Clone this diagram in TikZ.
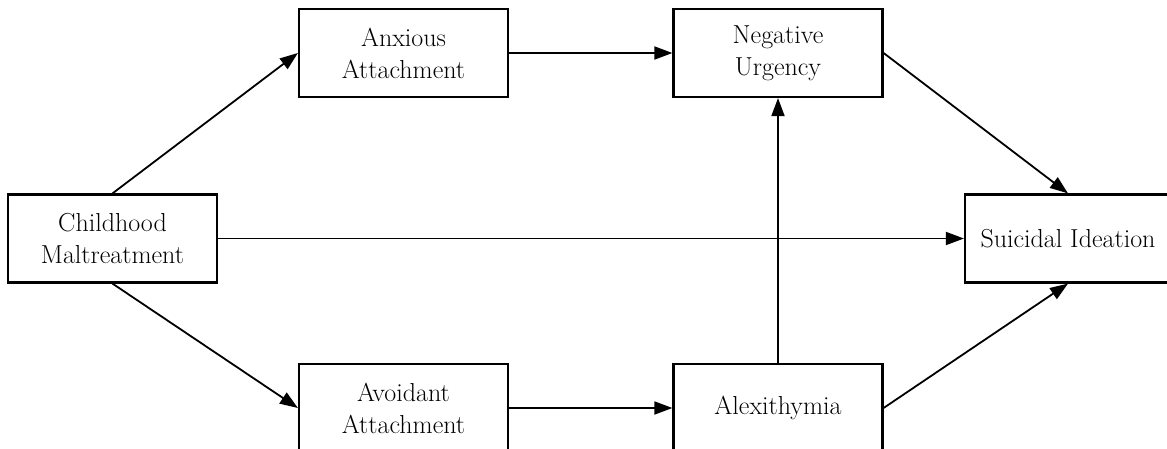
\documentclass[tikz,border=0pt]{standalone}
\usetikzlibrary{arrows.meta}

\tikzset{
	varbox/.style={draw, line width=2.2pt, minimum width=209pt, minimum height=88pt, inner sep=0pt, align=center, font=\fontsize{26}{32}\selectfont},
	path/.style={line width=1.8pt, -{Triangle[length=18pt,width=13pt]}}
}

\begin{document}
\begin{tikzpicture}[x=1pt, y=1pt]
		%%%%% START %%%%%
		
		\useasboundingbox (0, 0) rectangle (1167, 448);
		\clip (0, 0) rectangle (1167, 448);
		
		\node[varbox] (child) at (112.5, 209.5) {Childhood\\Maltreatment};
		\node[varbox] (anx) at (403.5, 395) {Anxious\\Attachment};
		\node[varbox] (neg) at (778, 395) {Negative\\Urgency};
		\node[varbox, minimum width=206pt] (sui) at (1068, 209.5) {Suicidal Ideation};
		\node[varbox] (avo) at (403.5, 40) {Avoidant\\Attachment};
		\node[varbox] (alex) at (778, 40) {Alexithymia};
		
		\draw[path] (child.north) -- (anx.west);
		\draw[path] (child.east) -- (sui.west);
		\draw[path] (child.south) -- (avo.west);
		
		\draw[path] (anx.east) -- (neg.west);
		\draw[path] (avo.east) -- (alex.west);
		\draw[path] (alex.north) -- (neg.south);
		
		\draw[path] (neg.east) -- (sui.north);
		\draw[path] (alex.east) -- (sui.south);
		
		%%%%% END %%%%%
	\end{tikzpicture}
\end{document}
